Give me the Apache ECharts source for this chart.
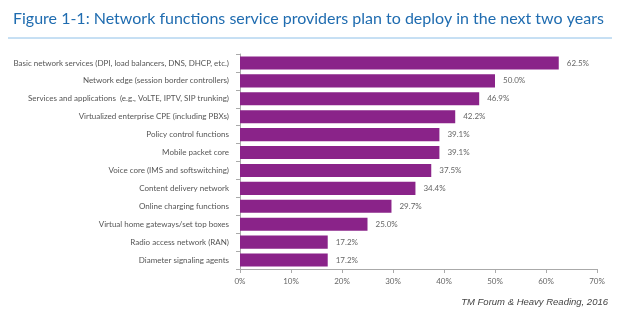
<!DOCTYPE html>
<html><head><meta charset="utf-8">
<script src="https://cdn.jsdelivr.net/npm/echarts@6/dist/echarts.min.js"></script>
<style>html,body{margin:0;padding:0;background:#fff}#c{width:620px;height:323px}</style>
</head><body><div id="c"></div>
<script>
const titleText = "Figure 1-1: Network functions service providers plan to deploy in the next two years";
const sourceText = "TM Forum & Heavy Reading, 2016";
const categories = [
  "Basic network services (DPI, load balancers, DNS, DHCP, etc.)",
  "Network edge (session border controllers)",
  "Services and applications  (e.g., VoLTE, IPTV, SIP trunking)",
  "Virtualized enterprise CPE (including PBXs)",
  "Policy control functions",
  "Mobile packet core",
  "Voice core (IMS and softswitching)",
  "Content delivery network",
  "Online charging functions",
  "Virtual home gateways/set top boxes",
  "Radio access network (RAN)",
  "Diameter signaling agents"
];
const values = [62.5, 50.0, 46.9, 42.2, 39.1, 39.1, 37.5, 34.4, 29.7, 25.0, 17.2, 17.2];
const xTicks = [0, 10, 20, 30, 40, 50, 60, 70];

const chart = echarts.init(document.getElementById('c'), null, {renderer: 'canvas'});
chart.setOption({
  animation: false,
  title: {
    text: titleText, left: 8, top: 6,
    textStyle: {fontFamily: 'Lato', fontSize: 16, fontWeight: 'normal', color: '#1f6cb0'}
  },
  graphic: [
    {type: 'line', shape: {x1: 8, y1: 38, x2: 612, y2: 38}, style: {stroke: '#8ec0e8', lineWidth: 1}},
    {type: 'text', right: 12, top: 297, style: {text: sourceText, font: 'italic 9.5px "Liberation Sans"', fill: '#444'}}
  ],
  grid: {left: 240, right: 23, top: 54, bottom: 54, containLabel: false},
  xAxis: {
    type: 'value', min: 0, max: 70, interval: 10,
    axisLine: {show: true, lineStyle: {color: '#aaa'}},
    axisTick: {show: true, length: 4, lineStyle: {color: '#aaa'}},
    splitLine: {show: false},
    axisLabel: {formatter: v => xTicks.includes(v) ? v + '%' : '', fontFamily: 'Lato', fontSize: 8, color: '#666', margin: 8}
  },
  yAxis: {
    type: 'category', data: categories, inverse: true,
    axisLine: {show: true, lineStyle: {color: '#aaa'}},
    axisTick: {show: true, length: 4, lineStyle: {color: '#aaa'}},
    axisLabel: {fontFamily: 'Lato', fontSize: 8, color: '#555', margin: 11}
  },
  series: [{
    type: 'bar', data: values, barCategoryGap: '27%',
    itemStyle: {color: '#8a2389'},
    label: {show: true, position: 'right', distance: 8, formatter: p => p.value.toFixed(1) + '%', fontFamily: 'Lato', fontSize: 8, color: '#666'}
  }]
});
</script></body></html>
